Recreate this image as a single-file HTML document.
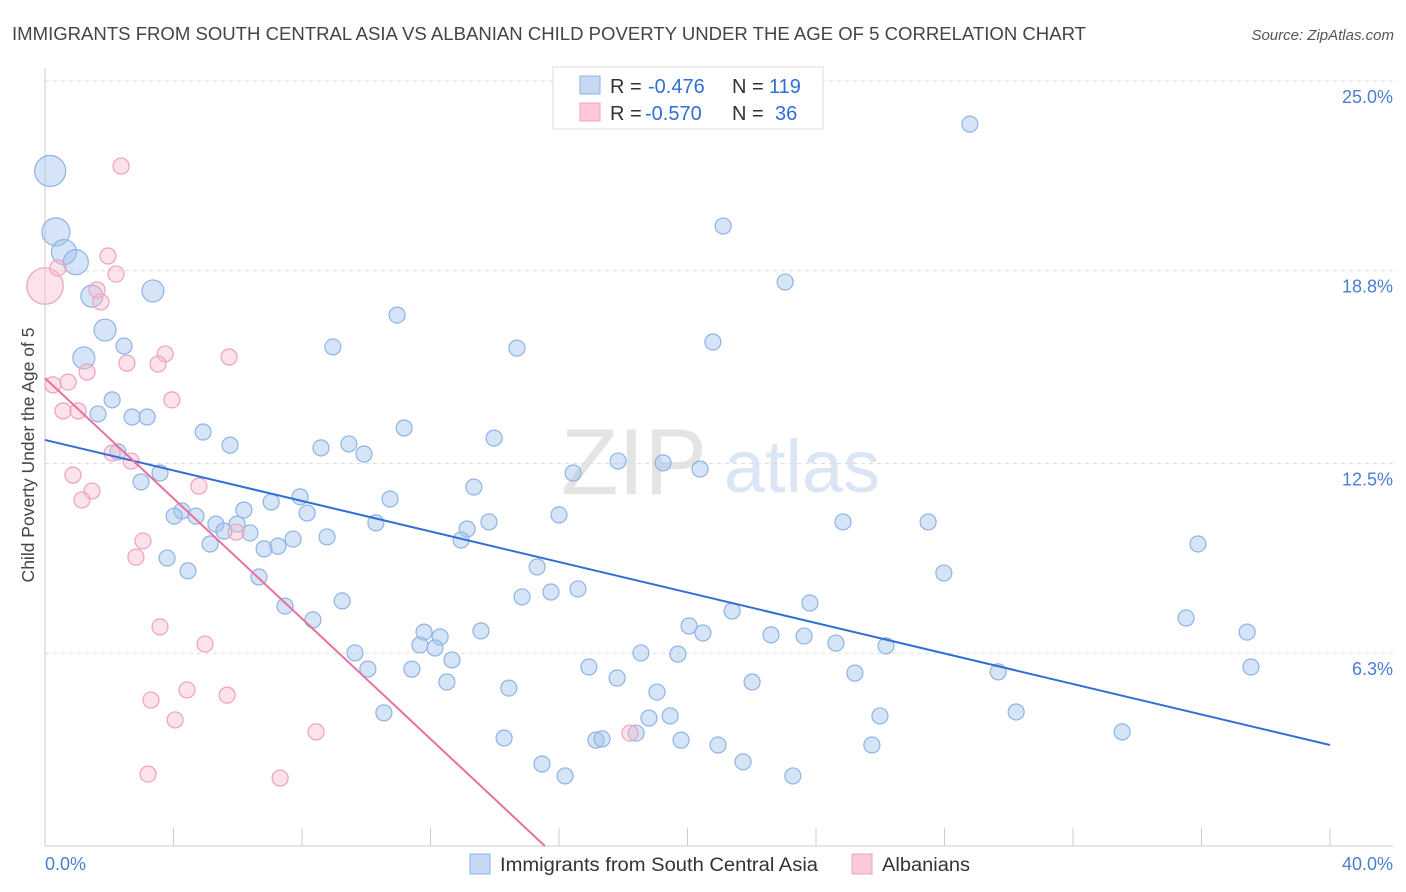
<!DOCTYPE html>
<html><head><meta charset="utf-8">
<style>
body{margin:0;background:#fff;font-family:"Liberation Sans",sans-serif;}
#wrap{position:relative;width:1406px;height:892px;overflow:hidden;}
svg text{font-family:"Liberation Sans",sans-serif;}
</style></head>
<body>
<div id="wrap">
<svg id="chart" width="1406" height="892">
  <text x="12" y="40" font-size="18.4" fill="#444" textLength="1074" lengthAdjust="spacingAndGlyphs">IMMIGRANTS FROM SOUTH CENTRAL ASIA VS ALBANIAN CHILD POVERTY UNDER THE AGE OF 5 CORRELATION CHART</text>
  <text x="1394" y="40" font-size="15" fill="#555" font-style="italic" text-anchor="end">Source: ZipAtlas.com</text>
  <g>
    <text x="634" y="494" font-size="94" fill="#e4e4e4" text-anchor="middle" font-family="Liberation Serif">ZIP</text>
    <text x="802" y="492" font-size="74" fill="#dbe6f5" text-anchor="middle">atlas</text>
  </g>
  <g id="grid"></g>
  <g id="axes"></g>
  <g id="pts"></g>
  <g id="trend"></g>
  <text transform="translate(34,455) rotate(-90)" font-size="17.5" fill="#444" text-anchor="middle">Child Poverty Under the Age of 5</text>
  <text x="45" y="870" font-size="18" fill="#4a7fd0">0.0%</text>
  <text x="1393" y="870" font-size="18" fill="#4a7fd0" text-anchor="end">40.0%</text>
  <g>
    <rect x="553" y="67" width="270" height="62" fill="#fff" stroke="#ddd"/>
    <rect x="580" y="76" width="20" height="18" fill="#c5d9f5" stroke="#8fb3e6"/>
    <rect x="580" y="103" width="20" height="18" fill="#f9c9d8" stroke="#f0a0bc"/>
    <g font-size="20">
      <text x="610" y="93" fill="#333">R =</text>
      <text x="648" y="93" fill="#2f6fd6">-0.476</text>
      <text x="732" y="93" fill="#333">N =</text>
      <text x="769" y="93" fill="#2f6fd6">119</text>
    </g>
    <g font-size="20">
      <text x="610" y="120" fill="#333">R =</text>
      <text x="645" y="120" fill="#2f6fd6">-0.570</text>
      <text x="732" y="120" fill="#333">N =</text>
      <text x="775" y="120" fill="#2f6fd6">36</text>
    </g>
  </g>
  <g>
    <rect x="470" y="854" width="20" height="20" fill="#c5d9f5" stroke="#8fb3e6"/>
    <text x="500" y="871" font-size="19" fill="#333" textLength="318" lengthAdjust="spacingAndGlyphs">Immigrants from South Central Asia</text>
    <rect x="852" y="854" width="20" height="20" fill="#f9c9d8" stroke="#f0a0bc"/>
    <text x="882" y="871" font-size="19" fill="#333" textLength="88" lengthAdjust="spacingAndGlyphs">Albanians</text>
  </g>
</svg>
</div>
<script>
const yTicks=[6.3,12.5,18.8,25.0];
const yTickLabels=["6.3%","12.5%","18.8%","25.0%"];
const xTicks=[4,8,12,16,20,24,28,32,36,40];
const blueX=[0.16,0.34,0.59,0.96,1.46,3.36,1.87,1.21,2.46,2.09,1.65,2.71,3.18,2.27,2.99,3.58,4.92,5.76,4.26,4.02,4.70,5.32,5.98,5.57,6.38,5.14,6.19,7.04,7.94,8.16,6.82,7.25,7.72,8.78,3.80,4.45,6.66,7.47,8.34,9.25,8.59,9.46,9.93,8.96,10.96,11.18,10.74,10.30,9.65,10.05,10.55,11.42,11.67,11.80,12.30,12.14,12.67,12.51,13.14,12.95,13.35,13.82,13.98,14.69,13.57,14.44,14.29,15.32,14.85,15.75,16.59,16.00,16.44,17.84,19.24,20.39,20.79,21.11,23.04,28.79,15.47,16.19,17.15,17.34,16.93,17.81,18.40,18.55,19.05,18.80,19.46,19.70,19.80,20.05,20.48,20.95,21.39,21.73,22.01,22.60,23.28,23.63,23.81,24.62,24.84,25.21,25.74,25.99,26.18,27.49,27.98,29.67,30.23,33.53,35.52,35.89,37.42,37.54];
const blueY=[22.06,20.07,19.41,19.08,17.97,18.14,16.86,15.95,16.34,14.58,14.12,14.02,14.02,12.88,11.90,12.19,13.53,13.10,10.95,10.78,10.78,10.52,10.52,10.29,10.23,9.87,10.98,11.24,11.41,10.88,9.71,9.80,10.03,10.10,9.41,8.99,8.79,7.84,7.39,8.01,13.01,13.14,12.81,16.31,17.35,13.66,11.34,10.56,6.31,5.78,4.35,5.78,6.57,6.99,6.83,6.47,6.08,5.36,10.36,10.00,11.73,10.59,13.33,16.27,7.03,5.16,3.53,9.12,8.14,8.30,8.40,10.82,12.19,12.58,12.52,12.32,16.47,20.26,18.43,23.59,2.68,2.29,3.46,3.50,5.85,5.49,3.69,6.31,5.03,4.18,4.25,6.27,3.46,7.19,6.96,3.30,7.68,2.75,5.36,6.90,2.29,6.86,7.94,6.63,10.59,5.65,3.30,4.25,6.54,10.59,8.92,5.69,4.38,3.73,7.45,9.87,6.99,5.85];
const blueWeight=[5,4,3,3,2,2,2,2];
const pinkX=[0,0.40,0.25,0.72,0.56,1.03,1.31,1.62,1.74,2.21,1.96,2.37,2.55,3.74,3.52,5.73,3.95,2.09,2.68,0.87,1.46,1.15,4.79,3.05,2.83,5.95,3.58,4.98,4.42,5.67,3.30,4.05,3.21,7.32,8.44,18.21];
const pinkY=[18.30,18.89,15.07,15.16,14.22,14.22,15.49,18.17,17.78,18.69,19.28,22.22,15.78,16.08,15.75,15.98,14.58,12.84,12.58,12.12,11.60,11.31,11.76,9.97,9.44,10.26,7.16,6.60,5.10,4.93,4.77,4.12,2.35,2.22,3.73,3.69];
const pinkWeight=[6];
const blueTrend=[13.27,3.30];
const pinkTrend=[15.29,0];
const pinkTrendEndX=15.56;

const NS="http://www.w3.org/2000/svg";
const X0=45,X1=1330,Y0=846,Y25=81;
const sx=v=>X0+v*(X1-X0)/40;
const sy=v=>Y0-v*(Y0-Y25)/25;
function mk(tag,attrs,parent){const e=document.createElementNS(NS,tag);for(const k in attrs)e.setAttribute(k,attrs[k]);parent.appendChild(e);return e;}
const grid=document.getElementById('grid'),axes=document.getElementById('axes'),pts=document.getElementById('pts'),tr=document.getElementById('trend');
yTicks.forEach((t,i)=>{
  const l=mk('line',{x1:X0,x2:1393,y1:sy(t),y2:sy(t),stroke:'#ddd','stroke-dasharray':'4,4'},grid);
  
  
  const tx=mk('text',{x:1393,y:sy(t)+22,'font-size':18,fill:'#4a7fd0','text-anchor':'end'},grid);
  tx.textContent=yTickLabels[i];
  
  
});
const ax=mk('line',{x1:X0,x2:1393,y1:Y0,y2:Y0,stroke:'#ccc'},axes);


const ay=mk('line',{x1:X0,x2:X0,y1:68,y2:Y0,stroke:'#ccc'},axes);


xTicks.forEach(t=>{
  const l=mk('line',{x1:sx(t),x2:sx(t),y1:Y0-18,y2:Y0,stroke:'#ccc'},axes);
  
  
});
blueX.forEach((v,i)=>{
  const r=8+(blueWeight[i]||0)*1.5;
  const c=mk('circle',{cx:sx(v),cy:sy(blueY[i]),r:r,fill:'rgba(165,195,238,0.45)',stroke:'#8fb3e6','stroke-width':1.2},pts);
  
  
});
pinkX.forEach((v,i)=>{
  const r=8+(pinkWeight[i]||0)*1.7;
  const c=mk('circle',{cx:sx(v),cy:sy(pinkY[i]),r:r,fill:'rgba(247,185,205,0.4)',stroke:'#f0a0bc','stroke-width':1.2},pts);
  
  
});
const bl=mk('line',{x1:sx(0),y1:sy(blueTrend[0]),x2:sx(40),y2:sy(blueTrend[1]),stroke:'#2f6fd6','stroke-width':2},tr);


const pl=mk('line',{x1:sx(0),y1:sy(pinkTrend[0]),x2:sx(pinkTrendEndX),y2:sy(pinkTrend[1]),stroke:'#e8709a','stroke-width':2},tr);


</script>
</body></html>
